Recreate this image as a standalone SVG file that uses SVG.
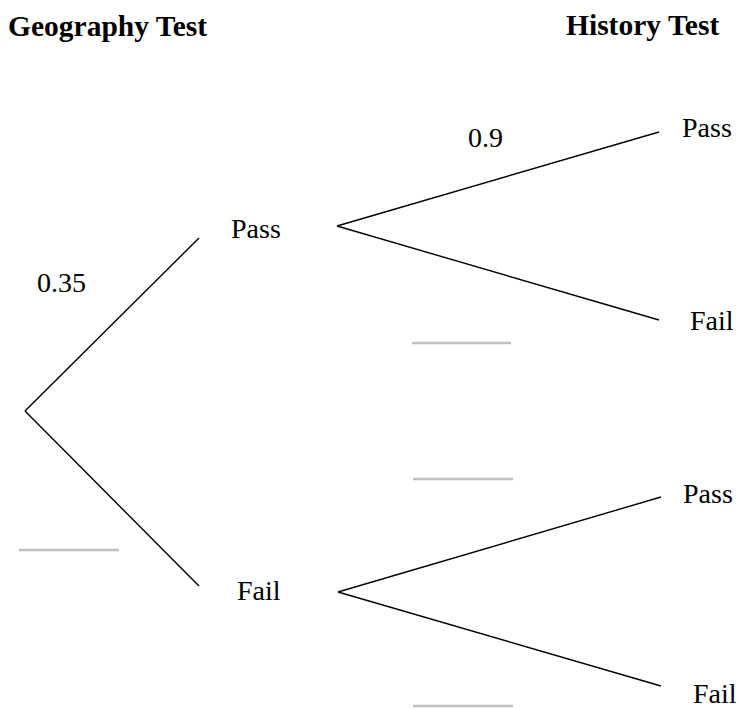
<svg xmlns="http://www.w3.org/2000/svg" width="738" height="709" viewBox="0 0 738 709">
<style>
.t{font-family:"Liberation Serif","Times New Roman",serif;font-size:28px;fill:#000}
.h{font-family:"Liberation Serif","Times New Roman",serif;font-size:29.5px;font-weight:bold;fill:#000}
.e{stroke:#000;stroke-width:1.4;fill:none}
.blank{stroke:#c0c0c0;stroke-width:2.5}
</style>
<rect width="738" height="709" fill="#fff"/>
<text class="h" x="8" y="36">Geography Test</text>
<text class="h" x="566" y="35">History Test</text>
<g id="connectors">
<line class="e" x1="25" y1="411" x2="199" y2="238"/>
<line class="e" x1="25" y1="411" x2="199" y2="586"/>
<line class="e" x1="337" y1="226" x2="659" y2="132"/>
<line class="e" x1="337" y1="226" x2="659" y2="320"/>
<line class="e" x1="338" y1="592" x2="661" y2="497"/>
<line class="e" x1="338" y1="592" x2="661" y2="686"/>
</g>
<g id="labels">
<text class="t" x="37" y="292">0.35</text>
<text class="t" x="468" y="147">0.9</text>
<line class="blank" x1="19" y1="550" x2="119" y2="550"/>
<line class="blank" x1="412" y1="343" x2="511" y2="343"/>
<line class="blank" x1="413" y1="479" x2="513" y2="479"/>
<line class="blank" x1="413" y1="706" x2="513" y2="706"/>
</g>
<g id="g-pass"><text class="t" x="231" y="238">Pass</text></g>
<g id="g-fail"><text class="t" x="237" y="600">Fail</text></g>
<g id="h-pass-1"><text class="t" x="682" y="137">Pass</text></g>
<g id="h-fail-1"><text class="t" x="690" y="330">Fail</text></g>
<g id="h-pass-2"><text class="t" x="683" y="503">Pass</text></g>
<g id="h-fail-2"><text class="t" x="693" y="703">Fail</text></g>
</svg>
